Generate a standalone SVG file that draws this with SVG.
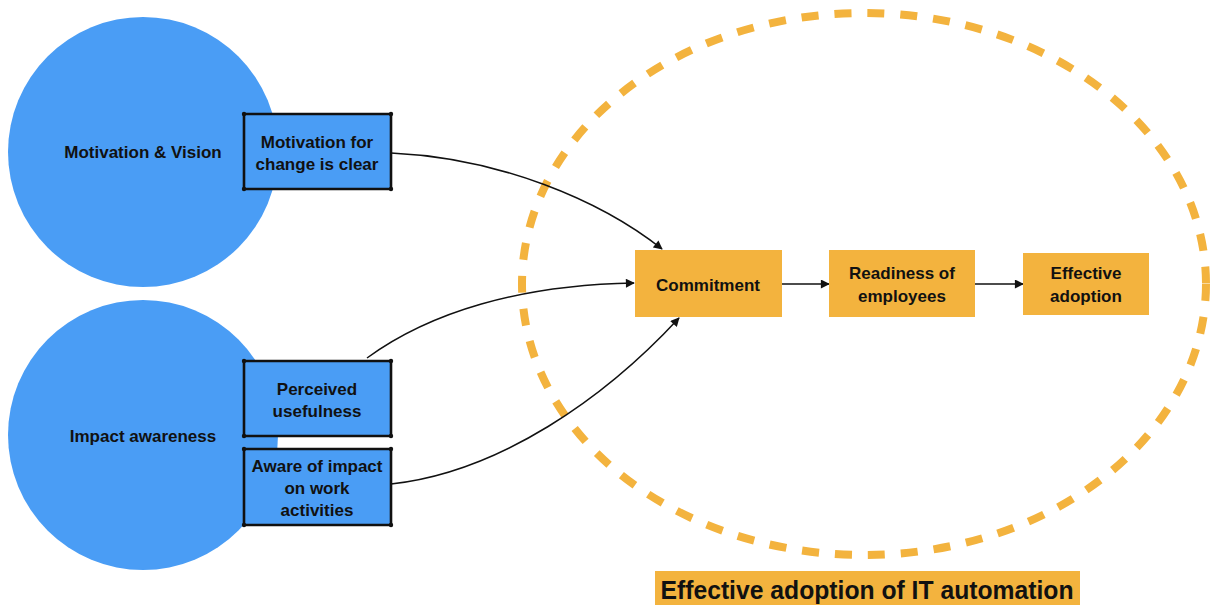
<svg xmlns="http://www.w3.org/2000/svg" width="1211" height="605" viewBox="0 0 1211 605">
  <style>
    text { font-family: "Liberation Sans", Arial, sans-serif; font-weight: bold; fill: #111; text-anchor: middle; }
    .t17 { font-size: 17px; }
    .circle { fill: #4A9DF5; }
    .factor { fill: #4A9DF5; stroke: #111; stroke-width: 2.6; stroke-linejoin: round; }
    .dot { fill: #111; }
    .stage { fill: #F3B33E; }
    .zone { fill: none; stroke: #F3B33E; stroke-width: 8; stroke-dasharray: 17 16; }
    .link { fill: none; stroke: #111; stroke-width: 1.5; }
  </style>
  <defs>
    <marker id="arrow" viewBox="0 0 10 10" refX="9" refY="5" markerWidth="10" markerHeight="9" markerUnits="userSpaceOnUse" orient="auto">
      <path d="M0,0 L10,5 L0,10 Z" fill="#111"/>
    </marker>
  </defs>

  <!-- dashed boundary of the adoption zone -->
  <ellipse id="adoption-zone" class="zone" cx="864" cy="284" rx="342" ry="271"/>

  <g id="motivation-vision">
    <circle class="circle" cx="143" cy="152" r="135"/>
    <text class="t17" x="143" y="158">Motivation &amp; Vision</text>
  </g>

  <g id="impact-awareness">
    <circle class="circle" cx="143" cy="435" r="135"/>
    <text class="t17" x="143" y="442">Impact awareness</text>
  </g>

  <g id="motivation-clear">
    <rect class="factor" x="244" y="114" width="147" height="75" rx="1.5"/>
    <circle class="dot" cx="244" cy="114" r="2.2"/><circle class="dot" cx="391" cy="114" r="2.2"/>
    <circle class="dot" cx="244" cy="189" r="2.2"/><circle class="dot" cx="391" cy="189" r="2.2"/>
    <text class="t17" x="317" y="148">Motivation for</text>
    <text class="t17" x="317" y="170">change is clear</text>
  </g>

  <g id="perceived-usefulness">
    <rect class="factor" x="244" y="361" width="147" height="75" rx="1.5"/>
    <circle class="dot" cx="244" cy="361" r="2.2"/><circle class="dot" cx="391" cy="361" r="2.2"/>
    <circle class="dot" cx="244" cy="436" r="2.2"/><circle class="dot" cx="391" cy="436" r="2.2"/>
    <text class="t17" x="317" y="395">Perceived</text>
    <text class="t17" x="317" y="417">usefulness</text>
  </g>

  <g id="aware-of-impact">
    <rect class="factor" x="244" y="449" width="147" height="76" rx="1.5"/>
    <circle class="dot" cx="244" cy="449" r="2.2"/><circle class="dot" cx="391" cy="449" r="2.2"/>
    <circle class="dot" cx="244" cy="525" r="2.2"/><circle class="dot" cx="391" cy="525" r="2.2"/>
    <text class="t17" x="317" y="472">Aware of impact</text>
    <text class="t17" x="317" y="494">on work</text>
    <text class="t17" x="317" y="516">activities</text>
  </g>

  <g id="connectors">
    <path class="link" d="M391,153 C500,158 600,200 662,249" marker-end="url(#arrow)"/>
    <path class="link" d="M367,358 C430,312 520,285 634,283" marker-end="url(#arrow)"/>
    <path class="link" d="M391,484 C500,472 605,398 679,318" marker-end="url(#arrow)"/>
    <path class="link" d="M782,284 L829,284" marker-end="url(#arrow)"/>
    <path class="link" d="M975,284 L1023,284" marker-end="url(#arrow)"/>
  </g>

  <g id="commitment">
    <rect class="stage" x="635" y="250" width="147" height="67"/>
    <text class="t17" x="708" y="291">Commitment</text>
  </g>

  <g id="readiness">
    <rect class="stage" x="829" y="250" width="146" height="67"/>
    <text class="t17" x="902" y="279">Readiness of</text>
    <text class="t17" x="902" y="302">employees</text>
  </g>

  <g id="effective-adoption">
    <rect class="stage" x="1023" y="253" width="126" height="62"/>
    <text class="t17" x="1086" y="279">Effective</text>
    <text class="t17" x="1086" y="302">adoption</text>
  </g>

  <g id="zone-label">
    <rect class="stage" x="655" y="571" width="425" height="34"/>
    <text x="867" y="599" font-size="25" textLength="413" lengthAdjust="spacingAndGlyphs">Effective adoption of IT automation</text>
  </g>
</svg>
